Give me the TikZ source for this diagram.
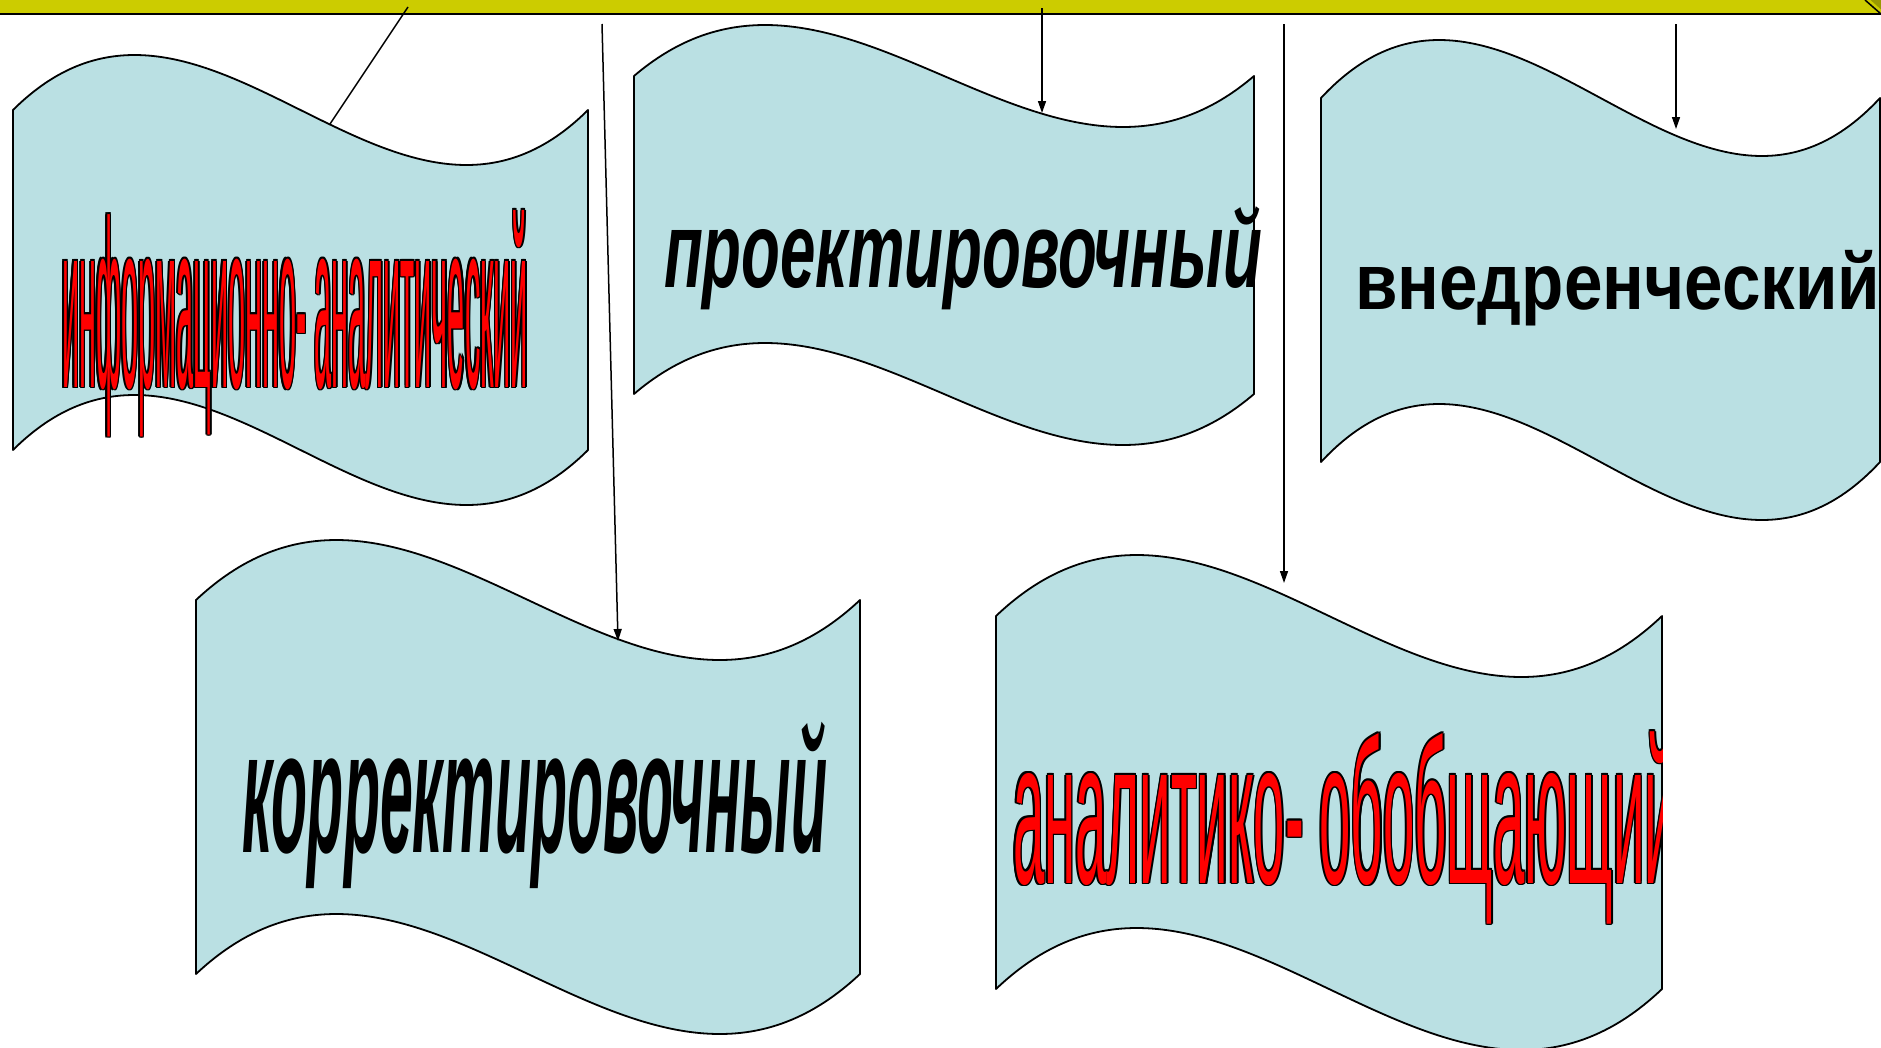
\documentclass[tikz,border=0pt]{standalone}
\usepackage{fontspec}
\setmainfont{Liberation Sans}
\usepackage{graphicx}
\usetikzlibrary{arrows.meta}
\definecolor{tapefill}{HTML}{BAE0E3}
\definecolor{barfill}{HTML}{CCCC00}
\definecolor{bardark}{HTML}{999900}
\tikzset{
  tapestyle/.style={draw=black, line width=1.8pt, fill=tapefill, line join=round},
  link/.style={draw=black, line width=1.5pt},
  arrowlink/.style={link, -{Triangle[length=12pt,width=8pt]}},
  lbl/.style={anchor=base west, inner sep=0pt, outer sep=0pt},
}
% wave (punched tape) shape: x0, x1, ytop, ybot, amplitude
\newcommand{\tapeshape}[5]{%
  \pgfmathsetmacro{\tpA}{#1+(#2-#1)/3}%
  \pgfmathsetmacro{\tpB}{#1+2*(#2-#1)/3}%
  \pgfmathsetmacro{\tpK}{#5/0.2887}%
  \draw[tapestyle] (#1,#3) .. controls (\tpA,#3-\tpK) and (\tpB,#3+\tpK) .. (#2,#3)
    -- (#2,#4) .. controls (\tpB,#4+\tpK) and (\tpA,#4-\tpK) .. (#1,#4) -- cycle;
}
% text squeezed to width #1 and x-height #2
\newcommand{\squeeze}[3]{\resizebox{#1pt}{#2pt}{\raisebox{0pt}[1ex][0pt]{#3}}}
% red text with black outline
\newcommand{\outlinedtext}[3]{%
  \foreach \ox/\oy [count=\oi] in {1.6/0,-1.6/0,0/1.6,0/-1.6,1.1/1.1,-1.1/1.1,1.1/-1.1,-1.1/-1.1}
    \node[lbl, text=black] (#1-o\oi) at ([shift={(\ox,\oy)}]#2) {#3};
  \node[lbl, text=red] (#1) at (#2) {#3};
}
\begin{document}
\begin{tikzpicture}[x=1pt, y=-1pt]
\useasboundingbox (0,0) rectangle (1881,1047);
\clip (0,0) rectangle (1881,1047);

% top bar
\fill[barfill] (-5,-5) rectangle (1886,14);
\fill[bardark] (1865,-5) -- (1886,-5) -- (1886,14) -- cycle;
\draw[line width=1.5pt] (1865,0) -- (1881,14);
\draw[line width=2.5pt] (-5,14) -- (1886,14);

% shapes
\tapeshape{13}{588}{110}{450}{55}
\tapeshape{634}{1254}{76}{394}{51}
\tapeshape{1321}{1880}{98}{462}{58}
\tapeshape{196}{860}{600}{974}{60}
\tapeshape{996}{1662}{616}{989}{61}

% connector end points
\coordinate (c1a) at (408,7);
\coordinate (c1b) at (330,124);
\coordinate (c2a) at (602,24);
\coordinate (c2b) at (618,641);
\coordinate (c3a) at (1042,8);
\coordinate (c3b) at (1042,113);
\coordinate (c4a) at (1284,24);
\coordinate (c4b) at (1284,583);
\coordinate (c5a) at (1676,24);
\coordinate (c5b) at (1676,129);

\draw[link] (c1a) -- (c1b);
\draw[arrowlink] (c2a) -- (c2b);
\draw[arrowlink] (c3a) -- (c3b);
\draw[arrowlink] (c4a) -- (c4b);
\draw[arrowlink] (c5a) -- (c5b);

% texts
\coordinate (p1) at (62,387);
\outlinedtext{t1}{p1}{\squeeze{466}{126}{информационно- аналитический}}

\node[lbl] (t2) at (664,287) {\bfseries\itshape\squeeze{598}{57}{проектировочный}};
\node[lbl] (t3) at (1355,309) {\bfseries\squeeze{525}{42}{внедренческий}};
\node[lbl] (t4) at (242,852) {\bfseries\itshape\squeeze{585}{92}{корректировочный}};

\begin{scope}
\clip (996,500) rectangle (1662,1047);
\coordinate (p5) at (1013,883);
\outlinedtext{t5}{p5}{\squeeze{663}{108}{аналитико- обобщающий}}
\end{scope}
\end{tikzpicture}
\end{document}
